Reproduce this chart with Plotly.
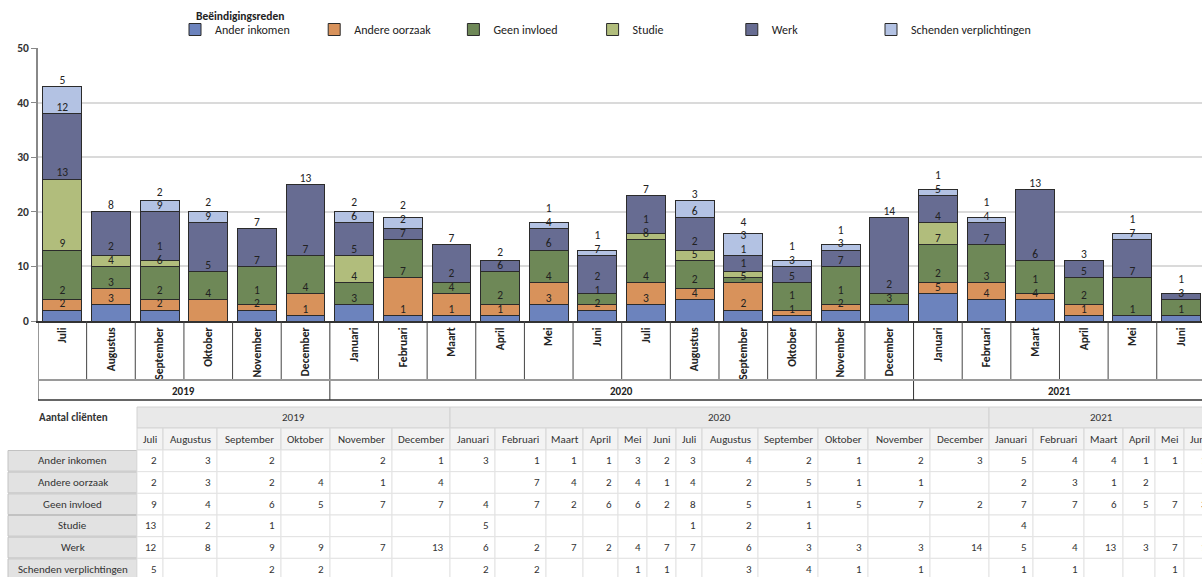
import plotly.graph_objects as go

# ---------------- data ----------------
YEARS = ["2019"] * 6 + ["2020"] * 12 + ["2021"] * 6
MONTHS = ["Juli", "Augustus", "September", "Oktober", "November", "December",
          "Januari", "Februari", "Maart", "April", "Mei", "Juni",
          "Juli", "Augustus", "September", "Oktober", "November", "December",
          "Januari", "Februari", "Maart", "April", "Mei", "Juni"]
SERIES = ["Ander inkomen", "Andere oorzaak", "Geen invloed", "Studie", "Werk",
          "Schenden verplichtingen"]
ander_inkomen = [2, 3, 2, 0, 2, 1, 3, 1, 1, 1, 3, 2, 3, 4, 2, 1, 2, 3, 5, 4, 4, 1, 1, 1]
andere_oorzaak = [2, 3, 2, 4, 1, 4, 0, 7, 4, 2, 4, 1, 4, 2, 5, 1, 1, 0, 2, 3, 1, 2, 0, 0]
geen_invloed = [9, 4, 6, 5, 7, 7, 4, 7, 2, 6, 6, 2, 8, 5, 1, 5, 7, 2, 7, 7, 6, 5, 7, 3]
studie = [13, 2, 1, 0, 0, 0, 5, 0, 0, 0, 0, 0, 1, 2, 1, 0, 0, 0, 4, 0, 0, 0, 0, 0]
werk = [12, 8, 9, 9, 7, 13, 6, 2, 7, 2, 4, 7, 7, 6, 3, 3, 3, 14, 5, 4, 13, 3, 7, 1]
schenden = [5, 0, 2, 2, 0, 0, 2, 2, 0, 0, 1, 1, 0, 3, 4, 1, 1, 0, 1, 1, 0, 0, 1, 0]
VALUES = [ander_inkomen, andere_oorzaak, geen_invloed, studie, werk, schenden]

# ---------------- styles / layout ----------------
COLORS = ["#6c83bd", "#d8925b", "#6e8857", "#b1bd7c", "#676c92", "#b3c2e3"]
FONT = "Carlito, Lato, sans-serif"
W, H = 1202, 577
PL, PR, PT, PB = 38, 1202, 48, 321          # plot area in px
LEGEND_X0 = 175                             # px of first legend entry
LEGEND_STEP = 139.2                         # px between legend entries
TABLE_COL_W = [26, 54, 64, 49, 62, 58, 45, 51, 37, 35, 29, 29,
               26, 56, 60, 50, 62, 59, 44, 51, 39, 32, 29, 29]


def px2x(px):
    return (px - PL) / (PR - PL)


def px2y(py):
    return (PB - py) / (PB - PT)


keys = [f"{m} {y}" for m, y in zip(MONTHS, YEARS)]
n = len(keys)

fig = go.Figure()
legend_layouts = {}
for k, (name, vals, col) in enumerate(zip(SERIES, VALUES, COLORS)):
    lname = "legend" if k == 0 else f"legend{k + 1}"
    fig.add_trace(go.Bar(
        x=keys, y=vals, name=name, legend=lname,
        marker=dict(color=col, line=dict(color="#2b2b2b", width=1)),
        hoverinfo="skip"))
    legend_layouts[lname] = dict(
        orientation="h", x=px2x(LEGEND_X0 + k * LEGEND_STEP), y=px2y(15),
        xanchor="left", yanchor="top", bgcolor="rgba(0,0,0,0)", itemwidth=30,
        font=dict(family=FONT, size=12, color="#222"))

# data labels: just above the top of each segment, pushed up when crowded
lx, ly, lt = [], [], []
for i in range(n):
    cum = 0
    prev = -1e9
    for vals in VALUES:
        v = vals[i]
        if v <= 0:
            continue
        cum += v
        c = cum + 1.0
        if c < prev + 2.5:
            c = prev + 2.5
        prev = c
        lx.append(keys[i])
        ly.append(c)
        lt.append(str(v))
fig.add_trace(go.Scatter(x=lx, y=ly, text=lt, mode="text", showlegend=False,
                         textposition="middle center", hoverinfo="skip",
                         textfont=dict(family=FONT, size=11.5, color="#222")))

shapes = []
annotations = []


def note(x, y, text, font, xref="paper", yref="paper", xanchor="center"):
    annotations.append(dict(xref=xref, yref=yref, x=x, y=y, text=text, showarrow=False,
                            xanchor=xanchor, yanchor="middle", font=font))


# ---------------- legend title ----------------
note(px2x(194), px2y(16), "<b>Beëindigingsreden</b>",
     dict(family=FONT, size=11.5, color="#222"), xanchor="left")

# ---------------- x-axis label box ----------------
group_bounds = [0] + [i for i in range(1, n) if YEARS[i] != YEARS[i - 1]] + [n]
yb_month = px2y(380)
yb_bottom = px2y(400)
for i in range(n + 1):
    is_group = i in group_bounds
    shapes.append(dict(type="line", xref="x", yref="paper", x0=i - 0.5, x1=i - 0.5,
                       y0=0, y1=yb_bottom if is_group else yb_month,
                       line=dict(color="#333" if is_group else "#444", width=1)))
shapes.append(dict(type="line", xref="x", yref="paper", x0=-0.5, x1=n - 0.5,
                   y0=yb_month, y1=yb_month, line=dict(color="#9a9a9a", width=2)))
shapes.append(dict(type="line", xref="x", yref="paper", x0=-0.5, x1=n - 0.5,
                   y0=yb_bottom, y1=yb_bottom, line=dict(color="#333", width=1.5)))
for a, b in zip(group_bounds[:-1], group_bounds[1:]):
    note((a + b - 1) / 2, px2y(391), f"<b>{YEARS[a]}</b>",
         dict(family=FONT, size=11, color="#222"), xref="x")

# ---------------- data table ----------------
TX0 = 137
col_x = [TX0]
for w in TABLE_COL_W:
    col_x.append(col_x[-1] + w)
Y_YEAR = (407, 428)
Y_MONTH = (428, 450)
ROW_H = 21.67
ROW0 = 450
tfont = dict(family=FONT, size=11, color="#333")

note(px2x(73), px2y(417), "<b>Aantal cliënten</b>", dict(family=FONT, size=11, color="#333"))
# year header row
for a, b in zip(group_bounds[:-1], group_bounds[1:]):
    x0, x1 = col_x[a], col_x[b]
    shapes.append(dict(type="rect", xref="paper", yref="paper", x0=px2x(x0), x1=px2x(x1),
                       y0=px2y(Y_YEAR[0]), y1=px2y(Y_YEAR[1]), fillcolor="#e9e9e9",
                       line=dict(color="#d2d2d2", width=1), layer="below"))
    note(px2x((x0 + x1) / 2), px2y(sum(Y_YEAR) / 2), YEARS[a], tfont)
# month header row
for i in range(n):
    x0, x1 = col_x[i], col_x[i + 1]
    shapes.append(dict(type="rect", xref="paper", yref="paper", x0=px2x(x0), x1=px2x(x1),
                       y0=px2y(Y_MONTH[0]), y1=px2y(Y_MONTH[1]), fillcolor="#f3f3f3",
                       line=dict(color="#d6d6d6", width=1), layer="below"))
    note(px2x((x0 + x1) / 2), px2y(sum(Y_MONTH) / 2), MONTHS[i], tfont)
# data rows
for r, (name, vals) in enumerate(zip(SERIES, VALUES)):
    y0 = ROW0 + r * ROW_H
    y1 = y0 + ROW_H
    shapes.append(dict(type="rect", xref="paper", yref="paper", x0=px2x(8), x1=px2x(TX0),
                       y0=px2y(y0 + 0.5), y1=px2y(y1 - 0.5), fillcolor="#e2e2e2",
                       line=dict(color="#c2c2c2", width=1), layer="below"))
    note(px2x((8 + TX0) / 2), px2y((y0 + y1) / 2), name, tfont)
    for i in range(n):
        x0, x1 = col_x[i], col_x[i + 1]
        shapes.append(dict(type="rect", xref="paper", yref="paper", x0=px2x(x0), x1=px2x(x1),
                           y0=px2y(y0), y1=px2y(y1), fillcolor="#ffffff",
                           line=dict(color="#e3e3e3", width=1), layer="below"))
        if vals[i]:
            note(px2x(x1 - 4), px2y((y0 + y1) / 2), str(vals[i]), tfont, xanchor="right")

fig.update_layout(
    width=W, height=H,
    margin=dict(l=PL, r=W - PR, t=PT, b=H - PB, autoexpand=False),
    paper_bgcolor="white", plot_bgcolor="white",
    barmode="stack", bargap=0.2,
    font=dict(family=FONT, size=11, color="#222"),
    showlegend=True,
    xaxis=dict(type="category", categoryorder="array", categoryarray=keys,
               range=[-0.5, n - 0.57], tickmode="array", tickvals=keys, ticktext=MONTHS,
               tickangle=-90, showgrid=False, ticks="", showline=True,
               linecolor="#333", linewidth=1.5, automargin=False,
               tickfont=dict(family=FONT, size=11.5, color="#222", weight="bold")),
    yaxis=dict(range=[0, 50], dtick=10, showgrid=True, gridcolor="#dadada", gridwidth=1.5,
               zeroline=False, showline=True, linecolor="#888", linewidth=1.5,
               ticks="outside", ticklen=5, tickcolor="#888", automargin=False,
               tickfont=dict(family=FONT, size=11.5, color="#333", weight="bold")),
    shapes=shapes, annotations=annotations,
    **legend_layouts,
)

fig.write_html("out.html", config={"displayModeBar": False},
               post_script="document.body.style.margin='0px';")
